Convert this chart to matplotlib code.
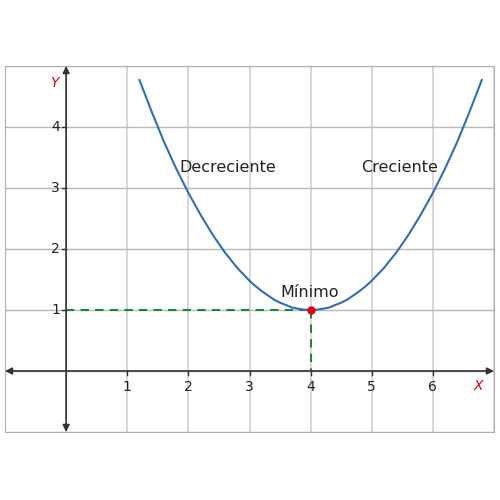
import matplotlib
matplotlib.use("Agg")
import matplotlib.pyplot as plt

# Curve points
curve_x = [1.2, 1.4, 1.6, 1.8, 2.0, 2.2, 2.4, 2.6, 2.8, 3.0, 3.1, 3.2, 3.3, 3.4, 3.5, 3.6, 3.7, 3.8, 3.9, 4.0,
           4.1, 4.2, 4.3, 4.4, 4.5, 4.6, 4.7, 4.8, 4.9, 5.0, 5.2, 5.4, 5.6, 5.8, 6.0, 6.2, 6.4, 6.6, 6.8]
curve_y = [4.77, 4.25, 3.76, 3.32, 2.92, 2.56, 2.23, 1.94, 1.69, 1.48, 1.39, 1.31, 1.24, 1.17, 1.12, 1.08, 1.04, 1.02, 1.005, 1.00,
           1.005, 1.02, 1.04, 1.08, 1.12, 1.17, 1.24, 1.31, 1.39, 1.48, 1.69, 1.94, 2.23, 2.56, 2.92, 3.32, 3.76, 4.25, 4.77]
min_x, min_y = 4, 1
x_ticks = [1, 2, 3, 4, 5, 6]
y_ticks = [1, 2, 3, 4]

fig = plt.figure(figsize=(5, 5), dpi=100)
ax = fig.add_axes([0.01, 0.136, 0.978, 0.732])
ax.set_xlim(-1, 7)
ax.set_ylim(-1, 5)

# grid
for gx in range(-1, 8):
    ax.axvline(gx, color="#d4d4d4", lw=1.3, zorder=0)
for gy in range(-1, 6):
    ax.axhline(gy, color="#b8b8b8", lw=1.0, zorder=0)

for s in ax.spines.values():
    s.set_color("#b0b0b0")
ax.set_xticks([])
ax.set_yticks([])

# axes arrows
ax.annotate("", xy=(7.0, 0), xytext=(-1.0, 0),
            arrowprops=dict(arrowstyle="<|-|>", color="#333333", lw=1.2,
                            mutation_scale=10, shrinkA=0, shrinkB=0), zorder=3)
ax.annotate("", xy=(0, 5.0), xytext=(0, -1.0),
            arrowprops=dict(arrowstyle="<|-|>", color="#333333", lw=1.2,
                            mutation_scale=10, shrinkA=0, shrinkB=0), zorder=3)

# ticks
for t in x_ticks:
    ax.plot([t, t], [0, -0.07], color="#333333", lw=1)
    ax.text(t, -0.14, str(t), ha="center", va="top", fontsize=10, color="#222222")
for t in y_ticks:
    ax.plot([0, -0.07], [t, t], color="#333333", lw=1)
    ax.text(-0.1, t, str(t), ha="right", va="center", fontsize=10, color="#222222")

ax.text(-0.2, 4.72, "Y", color="#e0001a", fontsize=10, style="italic", ha="center", va="center")
ax.text(6.74, -0.25, "X", color="#e0001a", fontsize=10, style="italic", ha="center", va="center")

# dashed guides
ax.plot([0, min_x], [min_y, min_y], color="#1a8a2e", lw=1.5, ls=(0, (4, 3)), zorder=2)
ax.plot([min_x, min_x], [min_y, 0], color="#1a8a2e", lw=1.5, ls=(0, (4, 3)), zorder=2)

# curve
ax.plot(curve_x, curve_y, color="#2f6fb5", lw=1.5, zorder=4)
ax.plot([min_x], [min_y], "o", color="#e8001c", ms=5, zorder=5)

ax.text(2.64, 3.34, "Decreciente", fontsize=11.5, ha="center", va="center", color="#222222")
ax.text(5.46, 3.34, "Creciente", fontsize=11.5, ha="center", va="center", color="#222222")
ax.text(3.98, 1.28, "Mínimo", fontsize=11.5, ha="center", va="center", color="#222222")

fig.savefig("out.png", dpi=100)
